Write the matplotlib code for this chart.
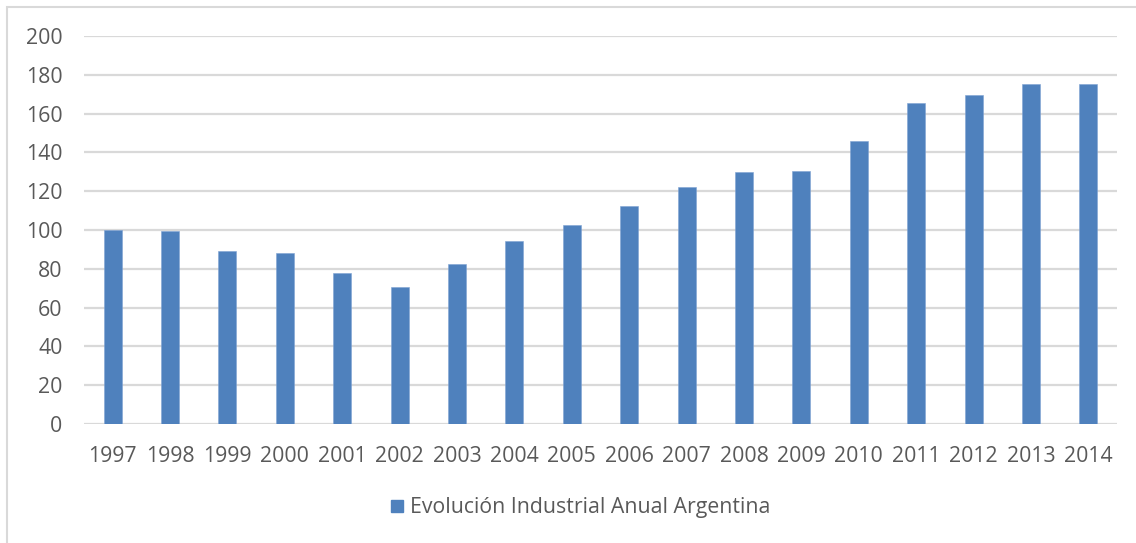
import matplotlib
matplotlib.use("Agg")
import matplotlib.pyplot as plt
from matplotlib.patches import Rectangle, Patch

years = ["1997", "1998", "1999", "2000", "2001", "2002", "2003", "2004", "2005",
         "2006", "2007", "2008", "2009", "2010", "2011", "2012", "2013", "2014"]
values = [100.0, 99.7, 89.3, 87.9, 77.7, 70.4, 82.3, 94.1, 102.4,
          112.6, 122.4, 129.7, 130.2, 145.7, 165.6, 169.6, 175.1, 175.5]
series_name = "Evolución Industrial Anual Argentina"
y_ticks = list(range(0, 201, 20))

BAR = "#4F81BD"
GRID = "#D9D9D9"
TEXT = "#595959"
FS = 15.3

plt.rcParams["font.family"] = ["Open Sans", "DejaVu Sans"]

fig = plt.figure(figsize=(11.36, 5.43), dpi=100)
ax = fig.add_axes([84 / 1136, 1 - 424 / 543, (1117 - 84) / 1136, (424 - 36) / 543])

x = list(range(len(years)))
ax.bar(x, values, width=0.313, color=BAR, edgecolor="#7FA3D3", linewidth=0.4, zorder=3)

ax.set_xlim(-0.5, len(years) - 0.5)
ax.set_ylim(0, 200)
ax.set_yticks(y_ticks)
ax.set_xticks(x)
ax.set_xticklabels(years)
ax.yaxis.grid(True, color=GRID, linewidth=1.6, zorder=0)
ax.set_axisbelow(True)
for s in ax.spines.values():
    s.set_visible(False)
ax.tick_params(axis="both", length=0, labelsize=FS, labelcolor=TEXT)
ax.tick_params(axis="y", pad=15.5)
ax.tick_params(axis="x", pad=16)

# chart area frame
fig.patches.append(Rectangle((7 / 1136, -0.05), 1.2, 1 - 7 / 543 + 0.05,
                             transform=fig.transFigure, fill=False,
                             edgecolor=GRID, linewidth=1.5))

handle = Patch(facecolor=BAR, edgecolor=BAR)
fig.legend([handle], [series_name], loc="center", bbox_to_anchor=(581 / 1136, 1 - 508 / 543),
           frameon=False, fontsize=FS, labelcolor=TEXT, handlelength=0.55, handleheight=0.55,
           handletextpad=0.35)

fig.savefig("out.png", dpi=100)
